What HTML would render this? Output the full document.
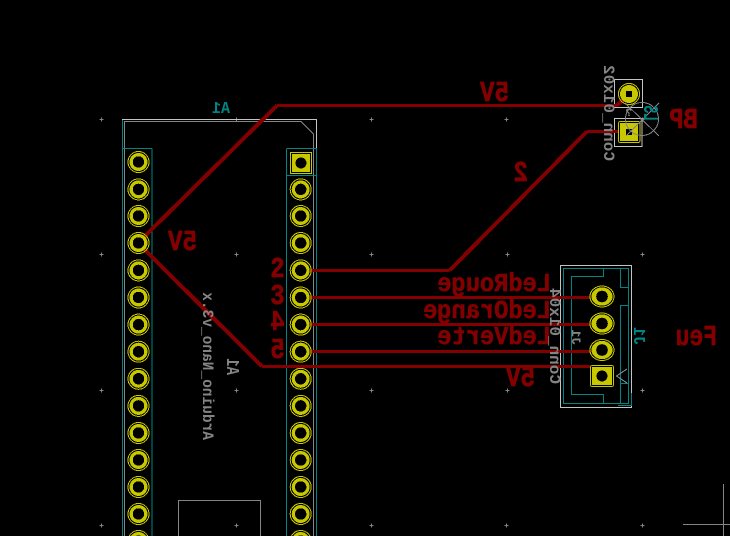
<!DOCTYPE html>
<html>
<head>
<meta charset="utf-8">
<style>
html,body{margin:0;padding:0;background:#000;width:730px;height:536px;overflow:hidden}
svg{display:block}
text{font-family:"Liberation Mono",monospace}
.r{fill:#840000;font-weight:bold;stroke:#840000;stroke-width:.5}
.g{fill:#848484;font-weight:bold}
.t{fill:#008484;font-weight:bold}
circle,path,rect,ellipse{shape-rendering:crispEdges}
</style>
</head>
<body>
<svg width="730" height="536" viewBox="0 0 730 536" xmlns="http://www.w3.org/2000/svg">
<defs>
<g id="p"><circle r="10.5" fill="none" stroke="#c8c800" stroke-width="1"/><circle r="9" fill="#c8c800"/><circle r="5.7" fill="#000"/></g>
<g id="e"><ellipse rx="12" ry="10.5" fill="none" stroke="#c8c800" stroke-width="1"/><ellipse rx="10.5" ry="9.2" fill="#c8c800"/><circle r="5.8" fill="#000"/></g>
<g id="c"><path d="M-2 0H2M0 -2V2" stroke="#848484" stroke-width="1"/></g>
</defs>
<rect width="730" height="536" fill="#000"/>

<g>
<use href="#c" x="101.5" y="119.5"/><use href="#c" x="236.5" y="119.5"/><use href="#c" x="371.5" y="119.5"/><use href="#c" x="506.5" y="119.5"/><use href="#c" x="642.5" y="119.5"/>
<use href="#c" x="101.5" y="254.5"/><use href="#c" x="236.5" y="254.5"/><use href="#c" x="371.5" y="254.5"/><use href="#c" x="507.5" y="254.5"/><use href="#c" x="642.5" y="254.5"/>
<use href="#c" x="101.5" y="390.5"/><use href="#c" x="236.5" y="390.5"/><use href="#c" x="371.5" y="390.5"/><use href="#c" x="507.5" y="390.5"/><use href="#c" x="642.5" y="390.5"/>
<use href="#c" x="101.5" y="525.5"/><use href="#c" x="236.5" y="525.5"/><use href="#c" x="371.5" y="525.5"/><use href="#c" x="506.5" y="525.5"/><use href="#c" x="642.5" y="525.5"/>
</g>
<path d="M723.5 484V536M683 524.5H730" stroke="#848484" stroke-width="1" fill="none"/>

<!-- Arduino outlines -->
<g fill="none" stroke-width="1">
<path d="M122.5 536V119.5H316.5V536" stroke="#008484"/>
<path d="M122 119.5H316.5V148" stroke="#c4c4c4"/>
<path d="M124.5 536V121.5H301L313.5 134V536" stroke="#848484"/>
<path d="M123 148.5H152M152 148.5V536M287 148.5H316M286.5 148.5V536M287 175.5H316" stroke="#008484"/>
<path d="M178.5 536V500.5H260.5V536" stroke="#848484"/>
</g>

<!-- J1 connector -->
<g fill="none" stroke-width="1">
<rect x="560.5" y="265.5" width="71" height="142" stroke="#c4c4c4"/>
<rect x="563.5" y="268.5" width="65" height="135" stroke="#008484"/>
<path d="M603.5 268V276.5H571.5V394.5H603.5V403M620.5 269V287.5H628M628 305.5H620.5V383.5H628M620.5 383.5V403M618 405.5H631.5V393" stroke="#008484"/>
<path d="M627 369L616.5 376L627 383" stroke="#848484"/>
</g>

<!-- BP rects -->
<g fill="none" stroke-width="1">
<rect x="614.5" y="79.5" width="28" height="28" stroke="#c4c4c4"/>
<rect x="614.5" y="118.5" width="27.5" height="28" stroke="#c4c4c4"/>
</g>

<!-- Tracks: horizontals -->
<g fill="none" stroke="#840000" stroke-width="3">
<path d="M277 105.5H617"/>
<path d="M262 366.5H590"/>
<path d="M310 270.5H449.5"/>
<path d="M587 131.5H618"/>
<path d="M310 297.5H590"/>
<path d="M310 324.5H590"/>
<path d="M310 351.5H590"/>
</g>
<!-- Tracks: diagonals -->
<g fill="none" stroke="#840000" stroke-width="4">
<path d="M144 237L277 105.5"/>
<path d="M617 105.5L623 100"/>
<path d="M145 250L262 366.5"/>
<path d="M449.5 270.5L587 131.5"/>
</g>

<!-- Arduino pads -->
<g>
<use href="#p" x="138.5" y="162"/><use href="#p" x="138.5" y="189.4"/><use href="#p" x="138.5" y="216"/><use href="#p" x="138.5" y="243"/><use href="#p" x="138.5" y="270.4"/><use href="#p" x="138.5" y="297.5"/><use href="#p" x="138.5" y="324.6"/><use href="#p" x="138.5" y="351.7"/><use href="#p" x="138.5" y="378.8"/><use href="#p" x="138.5" y="405.9"/><use href="#p" x="138.5" y="433"/><use href="#p" x="138.5" y="460"/><use href="#p" x="138.5" y="487"/><use href="#p" x="138.5" y="514"/><use href="#p" x="138.5" y="541"/>
<rect x="290.5" y="152.5" width="21" height="21" fill="none" stroke="#c8c800"/>
<rect x="292" y="154" width="18" height="18" fill="#c8c800"/><circle cx="301" cy="163" r="5.5" fill="#000"/>
<use href="#p" x="300.7" y="189.4"/><use href="#p" x="300.7" y="216"/><use href="#p" x="300.7" y="243"/><use href="#p" x="300.7" y="270.4"/><use href="#p" x="300.7" y="297.5"/><use href="#p" x="300.7" y="324.6"/><use href="#p" x="300.7" y="351.7"/><use href="#p" x="300.7" y="378.8"/><use href="#p" x="300.7" y="405.9"/><use href="#p" x="300.7" y="433"/><use href="#p" x="300.7" y="460"/><use href="#p" x="300.7" y="487"/><use href="#p" x="300.7" y="514"/><use href="#p" x="300.7" y="541"/>
</g>

<!-- J1 pads -->
<use href="#e" x="602" y="296.5"/><use href="#e" x="602" y="323.5"/><use href="#e" x="602" y="350"/>
<rect x="590.5" y="365.5" width="23" height="21" rx="2" fill="none" stroke="#c8c800"/>
<rect x="592" y="367" width="20" height="18" fill="#c8c800"/><circle cx="602" cy="376" r="5.5" fill="#000"/>

<!-- BP pads -->
<circle cx="629" cy="94" r="10.5" fill="none" stroke="#c8c800"/>
<path d="M629 85a9 9 0 1 0 0.01 0ZM626 91V97H632V91Z" fill="#c8c800" fill-rule="evenodd"/>
<rect x="618.5" y="121.5" width="21.5" height="21" rx="2" fill="none" stroke="#c8c800"/>
<path d="M620 123H638V141H620ZM626 129V135H632V129Z" fill="#c8c800" fill-rule="evenodd"/>

<!-- buzzer overlay -->
<g fill="none" stroke="#848484" stroke-width="1">
<circle cx="642" cy="119" r="16.5"/>
<path d="M625 103L659 136M659 103L626 136"/>
</g>
<text class="t" font-size="13" transform="translate(644,121) rotate(90) scale(-1,1.6)">LS</text>
<text class="g" font-size="11" transform="translate(632,116) scale(-1,1)">?</text>

<!-- Red labels -->
<text class="r" font-size="23" transform="translate(509,101) scale(-1.05,1.25)">5V</text>
<text class="r" font-size="23" transform="translate(197,250) scale(-1.05,1.25)">5V</text>
<text class="r" font-size="23" transform="translate(535,386) scale(-1.05,1.25)">5V</text>
<text class="r" font-size="23" transform="translate(698,128) scale(-1.05,1.25)">BP</text>
<text class="r" font-size="23" transform="translate(528,181) scale(-1.05,1.25)">2</text>
<text class="r" font-size="23" transform="translate(717,345) scale(-1,1.25)">Feu</text>
<text class="r" font-size="23" transform="translate(551,291) scale(-1.03,1.12)">LedRouge</text>
<text class="r" font-size="23" transform="translate(551,318) scale(-1.03,1.12)">LedOrange</text>
<text class="r" font-size="23" transform="translate(551,344) scale(-1.03,1.12)">LedVerte</text>
<text class="r" font-size="24" text-anchor="middle" transform="translate(277.5,277) scale(1,1.2)">2</text>
<text class="r" font-size="24" text-anchor="middle" transform="translate(277.5,304) scale(1,1.2)">3</text>
<text class="r" font-size="24" text-anchor="middle" transform="translate(277.5,330) scale(-1,1.2)">4</text>
<text class="r" font-size="24" text-anchor="middle" transform="translate(277.5,358) scale(-1,1.2)">5</text>

<!-- Teal labels -->
<text class="t" font-size="15" transform="translate(230,113) scale(-1,1.1)">A1</text>
<text class="t" font-size="15" transform="translate(634,345) rotate(90) scale(-1,1.1)">J1</text>

<!-- Gray labels -->
<text class="g" font-size="16" transform="translate(604,161) rotate(90) scale(-1,1)">Conn_01x02</text>
<text class="g" font-size="16" transform="translate(550,384) rotate(90) scale(-1,1)">Conn_01x04</text>
<text class="g" font-size="14.5" transform="translate(203,440) rotate(90) scale(-1,1.05)">Arduino_Nano_v3.x</text>
<text class="g" font-size="14" transform="translate(227,375) rotate(90) scale(-1,1.3)">A1</text>
<text class="g" font-size="13" transform="translate(572,345) rotate(90) scale(-1,1)">J1</text>
</svg>
</body>
</html>
